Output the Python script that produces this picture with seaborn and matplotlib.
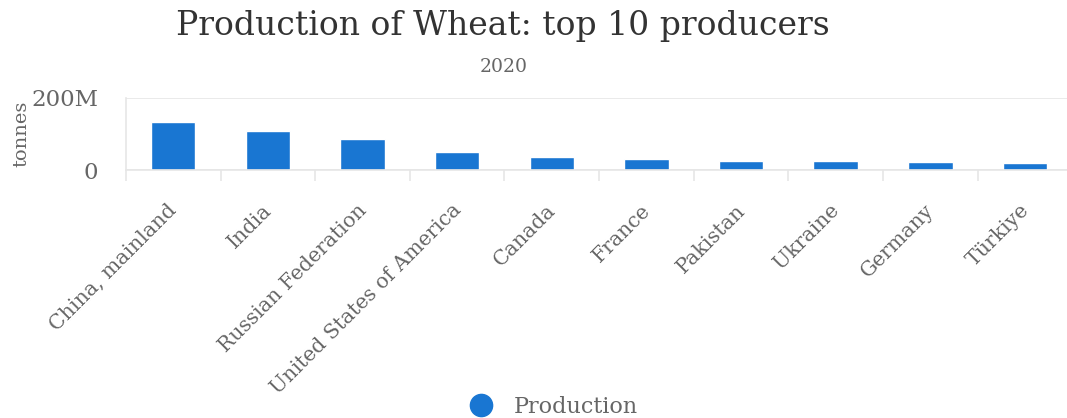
import matplotlib
matplotlib.use("Agg")
import matplotlib.pyplot as plt
from matplotlib.lines import Line2D
from matplotlib.ticker import FixedLocator, FuncFormatter
from matplotlib.transforms import ScaledTranslation
import seaborn as sns
import pandas as pd

countries = ["China, mainland", "India", "Russian Federation",
             "United States of America", "Canada", "France", "Pakistan",
             "Ukraine", "Germany", "Türkiye"]
production = [134250000, 107860000, 85896326, 49690680, 35183000,
              30144110, 25247511, 24912350, 22172100, 20500000]
y_ticks = [0, 200e6]
y_tick_labels = ["0", "200M"]

sns.set_theme(style="white")
plt.rcParams["font.family"] = ["DejaVu Serif"]

BAR = "#1976d2"
GRID = "#e6e6e6"
TXT = "#666666"

df = pd.DataFrame({"country": countries, "production": production})

fig = plt.figure(figsize=(10.67, 4.18), dpi=100)
ax = fig.add_axes([0.118, 0.593, 0.887, 0.1726])

sns.barplot(data=df, x="country", y="production", color=BAR, saturation=1,
            width=0.47, ax=ax)

ax.set_ylim(0, 200e6)
ax.set_xlim(-0.5, len(countries) - 0.5)
ax.yaxis.set_major_locator(FixedLocator(y_ticks))
ax.yaxis.set_major_formatter(FuncFormatter(lambda v, p: y_tick_labels[y_ticks.index(v)] if v in y_ticks else ""))
ax.yaxis.grid(True, color=GRID, linewidth=1.2)
ax.set_axisbelow(True)
ax.tick_params(axis="y", length=0, pad=20, labelsize=16.5, labelcolor=TXT)

# category boundaries carry the tick marks, labels sit at the centres
ax.set_xticks([i - 0.5 for i in range(len(countries) + 1)], minor=True)
ax.tick_params(axis="x", which="minor", length=8, width=1.2, color=GRID, bottom=True)
ax.tick_params(axis="x", which="major", length=0, pad=22)
ax.set_xticks(range(len(countries)))
ax.set_xticklabels(countries, rotation=45, ha="right", rotation_mode="anchor",
                   fontsize=14.7, color=TXT)
shift = ScaledTranslation(-6 / 100, 0, fig.dpi_scale_trans)
for lab in ax.get_xticklabels():
    lab.set_transform(lab.get_transform() + shift)

for side in ["top", "right"]:
    ax.spines[side].set_visible(False)
ax.spines["left"].set_color(GRID)
ax.spines["bottom"].set_color(GRID)
ax.spines["left"].set_linewidth(1.2)
ax.spines["bottom"].set_linewidth(1.2)

ax.set_xlabel("")
ax.set_ylabel("tonnes", fontsize=14, color=TXT)
ax.yaxis.set_label_coords(-0.101, 0.5)

fig.text(0.471, 0.937, "Production of Wheat: top 10 producers", ha="center",
         va="center", fontsize=23.8, color="#333333")
fig.text(0.472, 0.84, "2020", ha="center", va="center", fontsize=13.5,
         color=TXT)

handle = Line2D([], [], marker="o", linestyle="none", markersize=16,
                markerfacecolor=BAR, markeredgecolor=BAR)
fig.legend([handle], ["Production"], loc="center", bbox_to_anchor=(0.514, 0.026),
           frameon=False, fontsize=16, labelcolor=TXT, handletextpad=0.45)

fig.savefig("out.png", dpi=100)
